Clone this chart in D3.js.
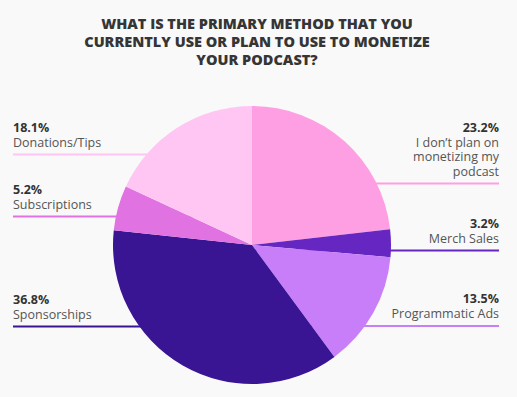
<!DOCTYPE html>
<html>
<head>
<meta charset="utf-8">
<script src="https://cdn.jsdelivr.net/npm/d3@7"></script>
<style>
  body { margin: 0; background: #f9f9f9; }
  svg { display: block; font-family: "Open Sans", sans-serif; }
</style>
</head>
<body>
<svg width="517" height="397"></svg>
<script>
// data
var categories = ["I don\u2019t plan on monetizing my podcast", "Merch Sales", "Programmatic Ads",
                  "Sponsorships", "Subscriptions", "Donations/Tips"];
var values = [23.2, 3.2, 13.5, 36.8, 5.2, 18.1];
var colors = ["#ff9fe3", "#6626c1", "#c97ef9", "#391593", "#e072e1", "#ffc6f4"];
var labelLines = [["I don\u2019t plan on", "monetizing my", "podcast"], ["Merch Sales"], ["Programmatic Ads"],
                  ["Sponsorships"], ["Subscriptions"], ["Donations/Tips"]];
var titleLines = ["WHAT IS THE PRIMARY METHOD THAT YOU",
                  "CURRENTLY USE OR PLAN TO USE TO MONETIZE",
                  "YOUR PODCAST?"];

// layout
var side = ["right", "right", "right", "left", "left", "left"];
var ruleY = [183.5, 250.5, 326, 326.5, 216.5, 154.5];

var svg = d3.select("svg"),
    width = +svg.attr("width"),
    cx = 252, cy = 245, r = 139;

svg.append("rect").attr("width", width).attr("height", 397).attr("fill", "#f9f9f9");

svg.append("g").selectAll("text")
  .data(titleLines)
  .enter().append("text")
    .attr("x", 257)
    .attr("y", function(d, i) { return 29 + i * 18; })
    .attr("text-anchor", "middle")
    .attr("font-size", 14.5)
    .attr("font-weight", 800)
    .attr("fill", "#353535")
    .text(function(d) { return d; });

var rows = categories.map(function(c, i) {
  return {name: c, value: values[i], color: colors[i], lines: labelLines[i], side: side[i], y: ruleY[i]};
});

// rules go under the pie
svg.append("g").selectAll("line")
  .data(rows)
  .enter().append("line")
    .attr("x1", function(d) { return d.side == "left" ? 13 : 499; })
    .attr("x2", cx)
    .attr("y1", function(d) { return d.y; })
    .attr("y2", function(d) { return d.y; })
    .attr("stroke", function(d) { return d.color; })
    .attr("stroke-width", 1.8);

var pie = d3.pie().sort(null).value(function(d) { return d.value; });
var arc = d3.arc().innerRadius(0).outerRadius(r);

svg.append("g")
    .attr("transform", "translate(" + cx + "," + cy + ")")
  .selectAll("path")
  .data(pie(rows))
  .enter().append("path")
    .attr("d", arc)
    .attr("fill", function(d) { return d.data.color; });

var lab = svg.append("g").selectAll("g")
  .data(rows)
  .enter().append("g")
    .attr("text-anchor", function(d) { return d.side == "left" ? "start" : "end"; })
    .attr("transform", function(d) {
      var x = d.side == "left" ? 13 : 499;
      return "translate(" + x + "," + (d.y - 8 - d.lines.length * 14.5) + ")";
    });

lab.append("text")
    .attr("y", -0.5)
    .attr("font-size", 12.5)
    .attr("font-weight", 700)
    .attr("fill", "#333")
    .text(function(d) { return d.value.toFixed(1) + "%"; });

lab.each(function(d) {
  d3.select(this).selectAll("text.l")
    .data(d.lines)
    .enter().append("text")
      .attr("class", "l")
      .attr("y", function(t, i) { return 14.5 * (i + 1); })
      .attr("font-size", 12.5)
      .attr("fill", "#555")
      .text(function(t) { return t; });
});
</script>
</body>
</html>
